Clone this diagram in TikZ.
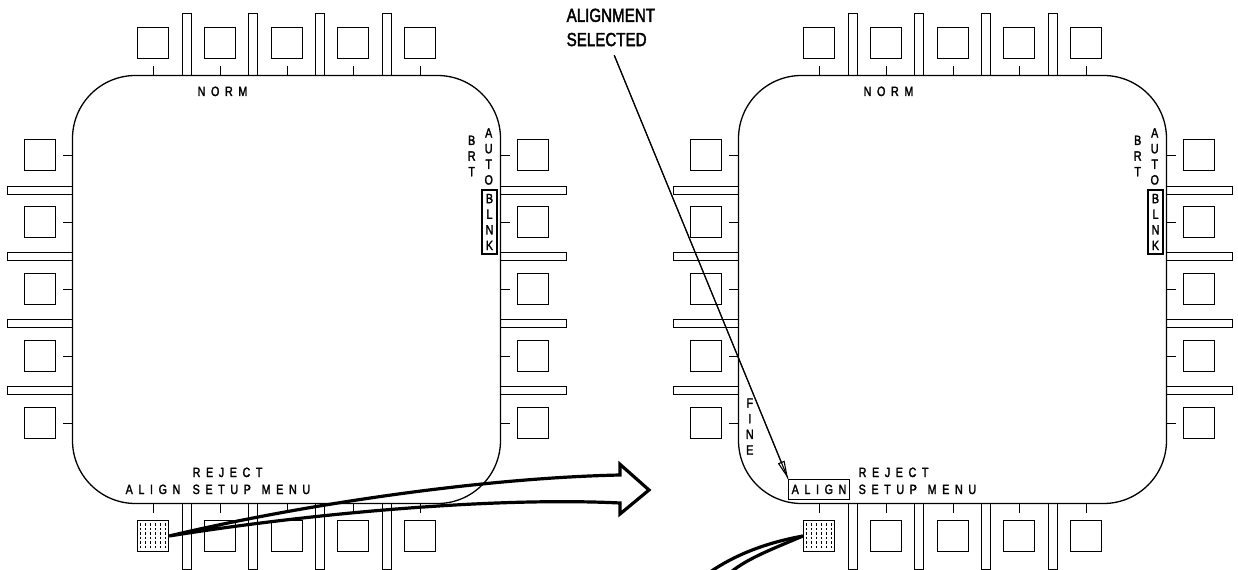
\documentclass[tikz,border=0pt]{standalone}
\usepackage{fontspec}
\newfontfamily\lblfont[FakeStretch=0.8,FakeBold=2]{Liberation Sans}
\usetikzlibrary{arrows.meta,calc}
\makeatletter
\def\lspaced#1{\lspaced@a#1\@nil}
\def\lspaced@a#1#2{#1\ifx#2\@nil\else\kern5.6bp\expandafter\lspaced@a\expandafter#2\fi}
\makeatother
\newcommand\mfdpanel[3]{%
\begin{scope}[xshift=#1bp]
  \draw[rounded corners=63bp] (72.5,75.5) rectangle (500.5,503.5);
  \foreach \pp [count=\k from 0] in {153,220,287,353,420}{
    \node[btn] (T#2\k) at (\pp,43) {};
    \node[btn] (B#2\k) at (\pp,536) {};
    \draw (\pp+0.5,66) -- (\pp+0.5,75.5) (\pp+0.5,503.5) -- (\pp+0.5,513);
  }
  \foreach \pp [count=\k from 0] in {155,222,289,356,423}{
    \node[btn] (L#2\k) at (40,\pp) {};
    \node[btn] (R#2\k) at (533,\pp) {};
    \draw (63,\pp+0.5) -- (72.5,\pp+0.5) (500.5,\pp+0.5) -- (510,\pp+0.5);
  }
  \foreach \pp in {187,253,320,387}{
    \draw (\pp-4.5,13.5) rectangle (\pp+4.5,75.5);
    \draw (\pp-4.5,503.5) rectangle (\pp+4.5,569.5);
  }
  \foreach \pp in {190.5,256.5,323.5,390.5}{
    \draw (7.5,\pp-4) rectangle (72.5,\pp+4);
    \draw (500.5,\pp-4) rectangle (566.5,\pp+4);
  }
  \foreach \i in {0,...,5}{
    \draw[hatch] (140.5+5*\i,523) -- (140.5+5*\i,550);
  }
  \node[lbl, anchor=base] (norm#2) at (222.5,96) {\lspaced{NORM}};
  \node[vlbl] (brt#2) at (471.7,156) {B\\R\\T};
  \node[vlbl] (auto#2) at (488.7,156.5) {A\\U\\T\\O};
  \node[vlbl, draw, minimum width=15bp, minimum height=64bp] (blnk#2) at (489.5,222) {B\\L\\N\\K};
  \node[lbl, anchor=base west] (rej#2) at (192,477) {\lspaced{REJECT}};
  \node[lbl, anchor=base west] (setup#2) at (192,494) {\lspaced{SETUP}};
  \node[lbl, anchor=base west] (menu#2) at (261,494) {\lspaced{MENU}};
  \node[lbl, anchor=base, #3] (align#2) at (153,494) {\lspaced{ALIGN}};
\end{scope}}
\begin{document}
\begin{tikzpicture}[x=1bp,y=-1bp, line width=1.3bp,
  btn/.style={draw, minimum size=31bp, inner sep=0pt},
  lbl/.style={font=\lblfont\fontsize{13.5}{15.7}\selectfont, inner sep=0pt},
  vlbl/.style={lbl, align=center},
  hatch/.style={line width=0.8bp, dash pattern=on 2.5bp off 2bp},
  bigarrow/.style={line width=3.2bp, line join=miter},
  leader/.style={line width=1.1bp}]
\useasboundingbox (0,0) rectangle (1238,570);
\mfdpanel{0}{a}{}
\mfdpanel{666}{b}{draw, inner xsep=3bp, inner ysep=5.3bp}
\node[vlbl] (fine) at (749.8,426.5) {F\\I\\N\\E};
\node[font=\lblfont\fontsize{19}{24.3}\selectfont, align=left, inner sep=0pt, anchor=north west] (sel) at (566,8) {ALIGNMENT\\SELECTED};
\draw[leader, shorten <=9bp] (sel.south) -- (alignb.north west);
\draw[leader, shorten <=9bp, -{Triangle[open, length=18bp, width=7bp]}] (sel.south) -- (alignb.north west);
\coordinate (tipA) at (649,490);
\draw[bigarrow] (Ba0.east) .. controls (300,505) and (480,478) .. (620,475) -- (620,464.3) -- (tipA) -- (620,514) -- (620,503) .. controls (500,497) and (320,512) .. (Ba0.east);
\coordinate (offA) at (710,572);
\coordinate (offB) at (731,572);
\draw[bigarrow] (Bb0.west) .. controls (765,543) and (735,555) .. (offA);
\draw[bigarrow] (Bb0.west) .. controls (775,548) and (748,558) .. (offB);
\end{tikzpicture}
\end{document}
